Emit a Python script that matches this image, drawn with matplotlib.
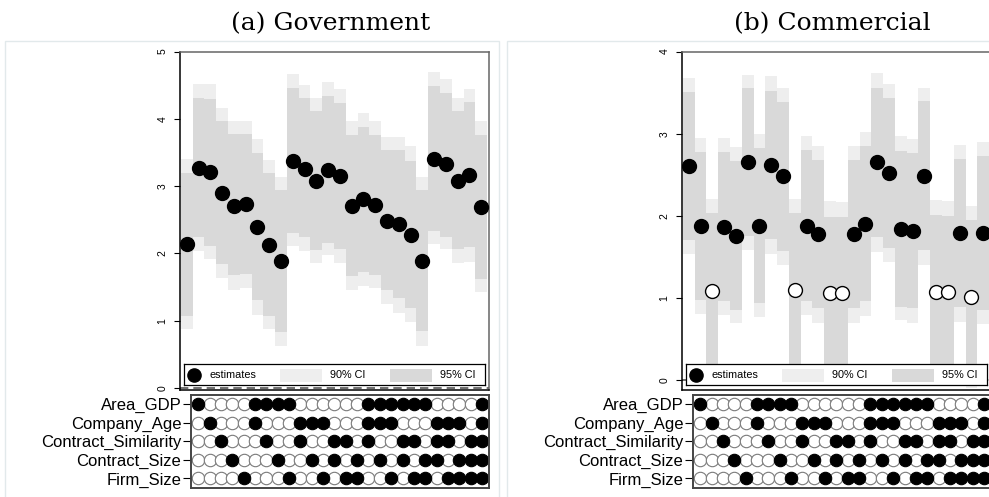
import numpy as np
import matplotlib.pyplot as plt
from matplotlib.patches import Rectangle

plt.rcParams['font.family'] = ['Liberation Sans', 'DejaVu Sans']

# --- data ---
variables = ["Area_GDP", "Company_Age", "Contract_Similarity", "Contract_Size", "Firm_Size"]
area_gdp = "10000111100000011111100001"
company_age = "01000100011100011100011101"
contract_similarity = "00100010010011010011011011"
contract_size = "00010001001010101010110111"
firm_size = "00001000100101100101101111"
spec_rows = [area_gdp, company_age, contract_similarity, contract_size, firm_size]

gov_est = [2.14, 3.27, 3.21, 2.90, 2.71, 2.73, 2.39, 2.13, 1.88, 3.38, 3.26, 3.08, 3.24,
           3.15, 2.71, 2.81, 2.72, 2.48, 2.43, 2.27, 1.89, 3.41, 3.33, 3.08, 3.17, 2.69]
gov_hi95 = [3.40, 4.52, 4.52, 4.16, 3.97, 3.97, 3.70, 3.39, 3.14, 4.66, 4.50, 4.31, 4.54,
            4.45, 3.97, 4.09, 3.97, 3.73, 3.73, 3.59, 3.14, 4.69, 4.59, 4.31, 4.45, 3.97]
gov_hi90 = [3.20, 4.31, 4.30, 3.96, 3.77, 3.77, 3.49, 3.19, 2.94, 4.46, 4.31, 4.12, 4.34,
            4.24, 3.76, 3.88, 3.76, 3.53, 3.53, 3.37, 2.94, 4.48, 4.39, 4.12, 4.25, 3.76]
gov_lo90 = [1.07, 2.24, 2.11, 1.84, 1.68, 1.69, 1.30, 1.07, 0.83, 2.31, 2.24, 2.05, 2.16,
            2.06, 1.67, 1.73, 1.68, 1.45, 1.33, 1.19, 0.84, 2.34, 2.25, 2.06, 2.09, 1.62]
gov_lo95 = [0.88, 2.04, 1.92, 1.63, 1.46, 1.48, 1.08, 0.87, 0.63, 2.11, 2.04, 1.86, 1.97,
            1.86, 1.46, 1.52, 1.48, 1.25, 1.12, 0.98, 0.63, 2.14, 2.07, 1.86, 1.87, 1.42]

com_est = [2.61, 1.88, 1.09, 1.87, 1.76, 2.65, 1.88, 2.62, 2.48, 1.10, 1.88, 1.78, 1.06,
           1.06, 1.78, 1.90, 2.65, 2.52, 1.84, 1.82, 2.49, 1.07, 1.07, 1.79, 1.01, 1.79]
com_hi95 = [3.68, 2.95, 2.21, 2.95, 2.84, 3.72, 3.00, 3.70, 3.56, 2.21, 2.97, 2.85, 2.18,
            2.17, 2.85, 3.02, 3.74, 3.60, 2.97, 2.93, 3.56, 2.19, 2.18, 2.86, 2.12, 2.90]
com_hi90 = [3.51, 2.78, 2.03, 2.78, 2.67, 3.55, 2.82, 3.52, 3.39, 2.04, 2.80, 2.68, 1.99,
            1.99, 2.68, 2.85, 3.56, 3.43, 2.79, 2.76, 3.40, 2.01, 2.00, 2.69, 1.95, 2.73]
com_lo90 = [1.71, 0.98, 0.15, 0.96, 0.85, 1.75, 0.94, 1.72, 1.57, 0.16, 0.96, 0.88, 0.13,
            0.13, 0.88, 0.96, 1.74, 1.61, 0.89, 0.88, 1.58, 0.13, 0.14, 0.89, 0.07, 0.85]
com_lo95 = [1.54, 0.81, -0.03, 0.79, 0.69, 1.58, 0.77, 1.54, 1.40, -0.01, 0.79, 0.70, -0.06,
            -0.06, 0.70, 0.78, 1.56, 1.44, 0.73, 0.69, 1.40, -0.05, -0.04, 0.71, -0.10, 0.68]

LIGHT = '#eeeeee'
DARK = '#d9d9d9'


def draw_top(ax, est, lo90, hi90, lo95, hi95, ylim, yticks):
    est, lo90, hi90 = np.array(est), np.array(lo90), np.array(hi90)
    lo95, hi95 = np.array(lo95), np.array(hi95)
    x = np.arange(1, len(est) + 1)
    ax.bar(x, hi95 - lo95, bottom=lo95, width=1.0, color=LIGHT, lw=0)
    ax.bar(x, hi90 - lo90, bottom=lo90, width=1.0, color=DARK, lw=0)
    ax.axhline(0, color='#555555', lw=1.2, ls=(0, (5, 3)), zorder=1.5)
    sig = lo95 > 0
    ax.scatter(x[sig], est[sig], s=100, color='black', zorder=3)
    ax.scatter(x[~sig], est[~sig], s=100, facecolor='white', edgecolor='black', lw=1, zorder=3)
    ax.set_xlim(0.42, 26.66)
    ax.set_ylim(*ylim)
    ax.set_xticks([])
    ax.set_yticks(yticks)
    ax.set_yticklabels([str(t) for t in yticks], rotation=90, va='center', fontsize=7.5)
    ax.tick_params(axis='y', length=4, width=0.8, pad=5)
    for s in ['top', 'right']:
        ax.spines[s].set_color('#666666')
    for s in ax.spines.values():
        s.set_linewidth(1.1)

    # legend box
    leg = ax.inset_axes([0.013, 0.015, 0.974, 0.062])
    leg.set_xlim(0, 301)
    leg.set_ylim(0, 1)
    leg.set_xticks([])
    leg.set_yticks([])
    for s in leg.spines.values():
        s.set_linewidth(0.9)
    leg.plot([10], [0.45], 'o', color='black', ms=9.5)
    leg.text(25, 0.45, 'estimates', va='center', fontsize=7.8)
    leg.add_patch(Rectangle((96, 0.14), 42, 0.64, color=LIGHT, lw=0))
    leg.text(146, 0.45, '90% CI', va='center', fontsize=7.8)
    leg.add_patch(Rectangle((206, 0.14), 42, 0.64, color=DARK, lw=0))
    leg.text(256, 0.45, '95% CI', va='center', fontsize=7.8)


def draw_matrix(ax):
    x = np.arange(1, 27)
    for r, row in enumerate(spec_rows):
        on = np.array([c == '1' for c in row])
        y = np.full(len(row), r + 1)
        ax.scatter(x[~on], y[~on], s=80, facecolor='white', edgecolor='#7a7a7a', lw=0.8)
        ax.scatter(x[on], y[on], s=80, color='black', lw=0.8)
    ax.set_xlim(0.36, 26.62)
    ax.set_ylim(5.52, 0.48)
    ax.set_xticks([])
    ax.set_yticks(range(1, 6))
    ax.set_yticklabels(variables, fontsize=12)
    ax.tick_params(axis='y', length=6, width=0.8, pad=1)
    for s in ax.spines.values():
        s.set_color('#444444')
        s.set_linewidth(1.4)


W, H = 989, 497
fig = plt.figure(figsize=(W / 100, H / 100), dpi=100)

# panel frames
fig.add_artist(Rectangle((4.5 / W, -0.01), (499 - 4.5) / W, 1 - 40.5 / H + 0.01,
                         transform=fig.transFigure, fill=False, edgecolor='#e2e9eb', lw=1))
fig.add_artist(Rectangle((507 / W, -0.01), 0.6, 1 - 40.5 / H + 0.01,
                         transform=fig.transFigure, fill=False, edgecolor='#e2e9eb', lw=1))

ax1 = fig.add_axes([180 / W, 1 - 390 / H, 309 / W, (390 - 51.5) / H])
draw_top(ax1, gov_est, gov_lo90, gov_hi90, gov_lo95, gov_hi95, (-0.03, 5.0), [0, 1, 2, 3, 4, 5])
m1 = fig.add_axes([191 / W, 1 - 488 / H, 298 / W, 93.3 / H])
draw_matrix(m1)

ax2 = fig.add_axes([682 / W, 1 - 390 / H, 309 / W, (390 - 51.5) / H])
draw_top(ax2, com_est, com_lo90, com_hi90, com_lo95, com_hi95, (-0.12, 4.0), [0, 1, 2, 3, 4])
m2 = fig.add_axes([693 / W, 1 - 488 / H, 298 / W, 93.3 / H])
draw_matrix(m2)

fig.text(331 / W, 1 - 24 / H, '(a) Government', ha='center', va='center',
         family='DejaVu Serif', fontsize=18)
fig.text(832 / W, 1 - 24 / H, '(b) Commercial', ha='center', va='center',
         family='DejaVu Serif', fontsize=18)

fig.savefig('out.png', dpi=100)
